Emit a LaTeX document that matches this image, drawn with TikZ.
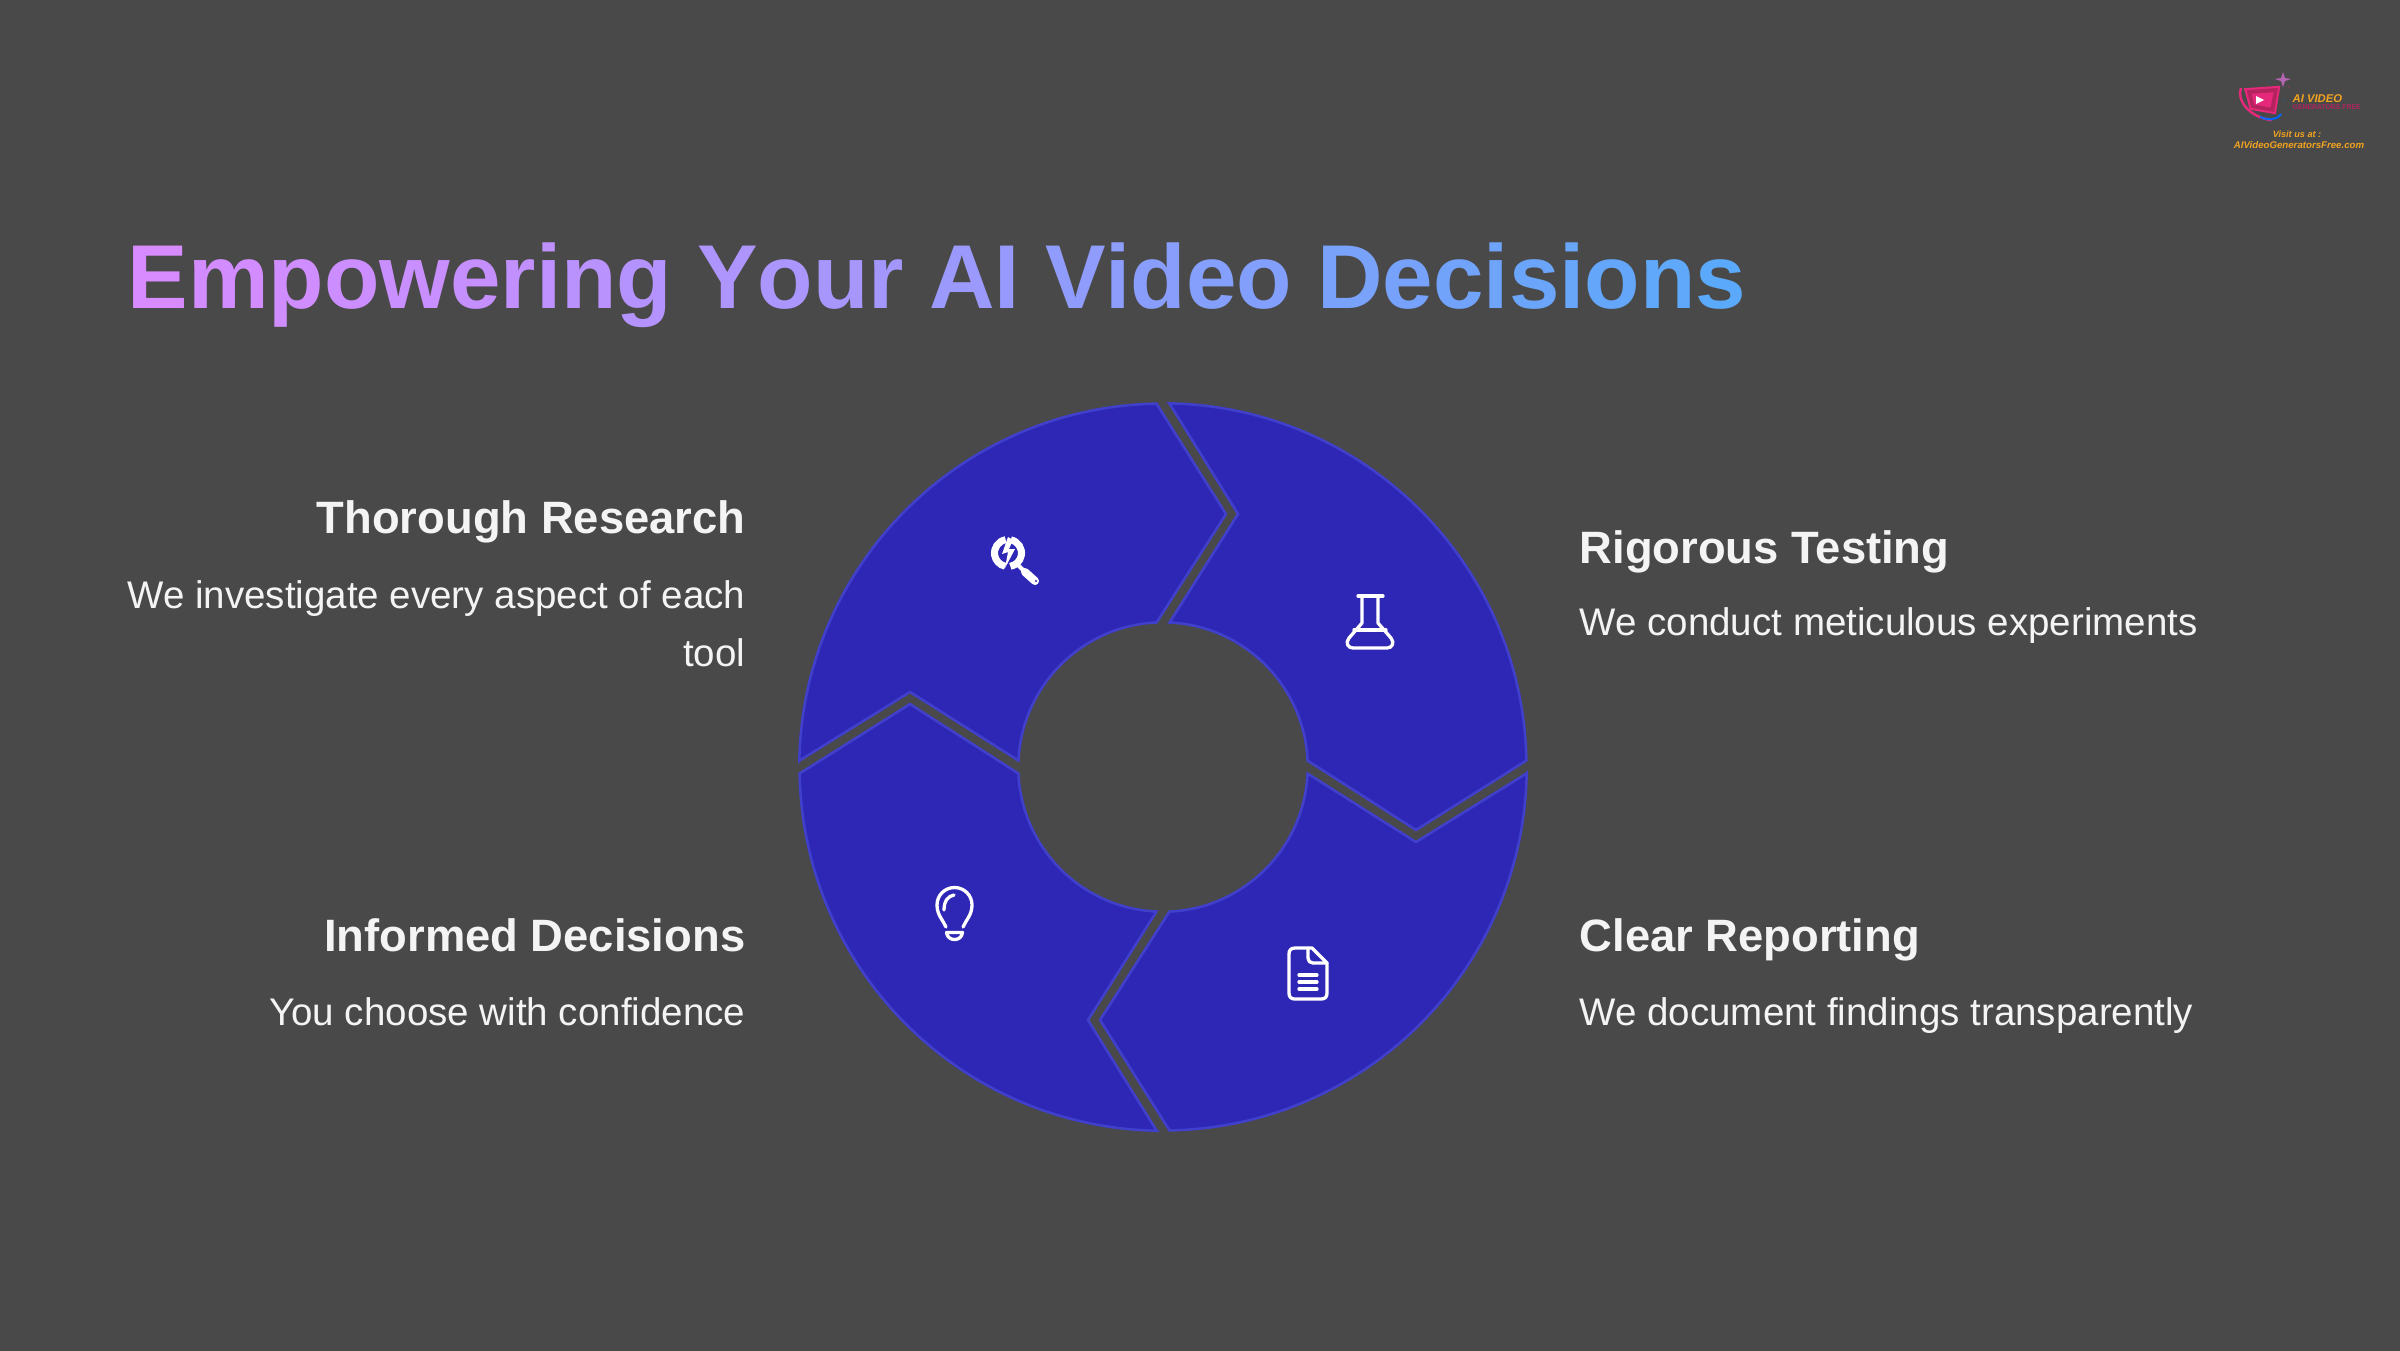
\documentclass[tikz,border=0pt]{standalone}
\usepackage{fontspec}
\setmainfont{Liberation Sans}
\usetikzlibrary{positioning}
\definecolor{backdrop}{HTML}{4A494A}
\definecolor{ringfill}{HTML}{2E27B6}
\definecolor{ringedge}{HTML}{4040CC}
\definecolor{titlestart}{HTML}{D78BFF}
\definecolor{titleend}{HTML}{5FA8FA}
\definecolor{softwhite}{HTML}{F4F4F4}
\definecolor{logoorange}{HTML}{F2A31F}
\definecolor{logored}{HTML}{B3245F}
\definecolor{logopink}{HTML}{E5287A}
\tikzset{
  basic/.style   = {inner sep=0pt, text=softwhite},
  heading/.style = {basic, font=\fontsize{12.9pt}{16pt}\selectfont\bfseries},
  blurb/.style   = {basic, font=\fontsize{10.95pt}{16.5pt}\selectfont, align=right},
  icon/.style    = {draw=white, line width=0.033cm, line cap=round, line join=round},
  wedge/.style   = {draw=ringedge, fill=ringfill, line width=0.025cm},
  logotext/.style = {inner sep=0pt, font=\fontsize{2.6pt}{3pt}\selectfont\bfseries\itshape, text=logoorange}
}

\begin{document}
\begin{tikzpicture}[x=0.01cm, y=-0.01cm]
\useasboundingbox (0,0) rectangle (2400,1350);
\fill[backdrop] (-5,-5) rectangle (2405,1355);

% title, letter by letter for the colour run
\node[inner sep=0pt, anchor=base west, font=\fontsize{25.8pt}{30pt}\selectfont\bfseries] (title) at (127,308)
  {\foreach \c [count=\i] in {E,m,p,o,w,e,r,i,n,g,{\ },Y,o,u,r,{\ },A,I,{\ },V,i,d,e,o,{\ },D,e,c,i,s,i,o,n,s}
    {\pgfmathsetmacro\p{int(100*(\i-1)/32)}\textcolor{titleend!\p!titlestart}{\c}}};

% the four ring parts, one shape turned round the centre
\foreach \k in {0,...,3}
  \draw[wedge, shift={(1163,767)}, rotate=-90*\k]
    (6.5,-363.4) -- (75,-253) -- (6.5,-144.5) arc[start angle=87.42, end angle=2.58, radius=1.4465cm]
    -- (253,63) -- (363.4,-6.5) arc[start angle=1.02, end angle=88.98, radius=3.635cm] -- cycle;

% left column
\node[heading, anchor=base east] (research) at (746,533.5) {Thorough Research};
\node[blurb, below=0.465cm of research.base east, anchor=north east] (researchtext) {We investigate every aspect of each\\tool};
\node[heading, anchor=base east] (decisions) at (746,951.5) {Informed Decisions};
\node[blurb, below=0.74cm of decisions.base east, anchor=base east] (decisionstext) {You choose with confidence};

% right column
\node[heading, anchor=base west] (testing) at (1579,563.5) {Rigorous Testing};
\node[blurb, below=0.72cm of testing.base west, anchor=base west] (testingtext) {We conduct meticulous experiments};
\node[heading, anchor=base west] (reporting) at (1579,951.5) {Clear Reporting};
\node[blurb, below=0.74cm of reporting.base west, anchor=base west] (reportingtext) {We document findings transparently};

% magnifier
\draw[white, line width=0.07cm] (1008,553) ++(100:0.135cm) arc[start angle=100, end angle=258, radius=0.135cm];
\draw[white, line width=0.07cm] (1008,553) ++(78:0.135cm) arc[start angle=78, end angle=-80, radius=0.135cm];
\fill[white] (1008,537) -- (1002,554) -- (1008,552) -- (1005,568) -- (1015,549) -- (1009,549) -- (1013,540) -- cycle;
\draw[white, line width=0.04cm] (1017,564) -- (1025,572);
\draw[white, line width=0.08cm, line cap=round] (1025,572) -- (1035,581);
\fill[ringfill] (1036,581) circle[radius=0.012cm];

% flask
\draw[icon] (1358,596) -- (1383,596);
\draw[icon] (1362,596) -- (1362,623) -- (1349,638) .. controls (1345,643) and (1348,648) .. (1353,648)
  -- (1387,648) .. controls (1392,648) and (1395,643) .. (1391,638) -- (1378,623) -- (1378,596);
\draw[icon] (1354,630) -- (1386,630);

% document
\draw[icon] (1308,948) -- (1295,948) .. controls (1291,948) and (1289,950) .. (1289,954) -- (1289,993)
  .. controls (1289,997) and (1291,999) .. (1295,999) -- (1321,999) .. controls (1325,999) and (1327,997) .. (1327,993)
  -- (1327,963) -- (1312,948) -- cycle;
\draw[icon] (1308,948) -- (1308,958) .. controls (1308,961) and (1310,963) .. (1313,963) -- (1327,963);
\draw[icon] (1299,975) -- (1317,975);
\draw[icon] (1299,982) -- (1317,982);
\draw[icon] (1299,989) -- (1317,989);

% bulb
\draw[icon] (946,927) .. controls (943,920) and (937,915) .. (937,905) .. controls (937,895) and (945,887.5) .. (954.5,887.5)
  .. controls (964,887.5) and (972,895) .. (972,905) .. controls (972,915) and (966,920) .. (963,927);
\draw[icon] (944,910) .. controls (944,901) and (948,896) .. (954,895);
\draw[icon] (946.5,932.5) -- (962.5,932.5) .. controls (962,937) and (958.5,939.5) .. (954.5,939.5)
  .. controls (950.5,939.5) and (947,937) .. (946.5,932.5) -- cycle;

% logo in the corner
\draw[logopink, line width=0.02cm, fill=logored, rotate around={4:(2262,100)}] (2246,88) -- (2280,88) -- (2274,114) -- (2250,108) -- cycle;
\fill[logopink, rotate around={4:(2262,100)}] (2252,93) -- (2274,93) -- (2270,108) -- (2254,104) -- cycle;
\draw[logopink, line width=0.025cm] (2241,88) .. controls (2236,100) and (2250,118) .. (2272,120);
\draw[blue!60!cyan, line width=0.02cm] (2260,117) .. controls (2268,120) and (2276,121) .. (2281,114);
\fill[white] (2256,96) -- (2264,100) -- (2256,104) -- cycle;
\fill[violet!60!white] (2283,72) -- (2285,78) -- (2291,79) -- (2285,81) -- (2283,87) -- (2281,81) -- (2275,79) -- (2281,78) -- cycle;
\fill[cyan!60!blue] (2269,82) circle[radius=0.007cm];
\fill[logopink] (2289,87) circle[radius=0.007cm];
\fill[cyan!60!blue] (2285,99) circle[radius=0.007cm];
\node[logotext, anchor=base west, font=\fontsize{3.2pt}{4pt}\selectfont\bfseries\itshape] (logoname) at (2292,102) {AI VIDEO};
\node[logotext, anchor=base west, text=logored, font=\fontsize{1.95pt}{3pt}\selectfont\bfseries] (logosub) at (2292,109) {GENERATORS FREE};
\node[logotext, anchor=base] (logovisit) at (2297,137) {Visit us at :};
\node[logotext, anchor=base, font=\fontsize{2.75pt}{4pt}\selectfont\bfseries\itshape] (logosite) at (2299,148) {AIVideoGeneratorsFree.com};
\end{tikzpicture}
\end{document}
